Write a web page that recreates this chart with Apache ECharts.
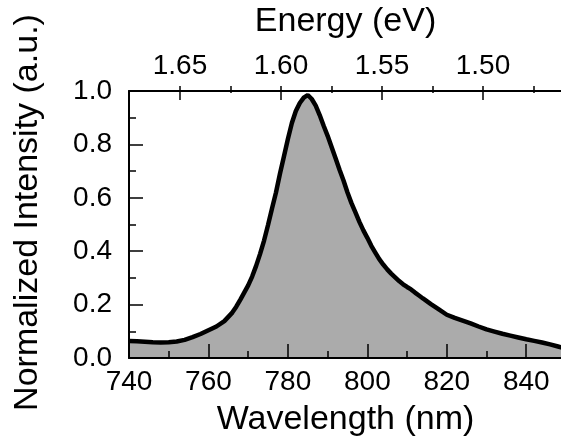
<!DOCTYPE html>
<html>
<head>
<meta charset="utf-8">
<script src="https://cdn.jsdelivr.net/npm/echarts@6/dist/echarts.min.js"></script>
<style>
  html, body { margin: 0; padding: 0; background: #fff; overflow: hidden; }
  /* wider than the window: the right end of the plot runs off the picture, as in the figure */
  #chart { width: 600px; height: 445px; }
</style>
</head>
<body>
<div id="chart"></div>
<script>
// spectrum
const wavelength = [
  740, 742, 744, 746, 748, 750, 752, 754, 756, 758, 760, 762, 764, 766, 767, 768, 769, 770,
  771, 772, 773, 774, 775, 776, 777, 778, 779, 780, 781, 782, 783, 784, 785, 786, 787, 788,
  789, 790, 791, 792, 793, 794, 795, 796, 797, 798, 799, 800, 801, 802, 803, 804, 805, 806,
  807, 808, 809, 810, 811, 812, 813, 814, 816, 818, 820, 822, 824, 826, 828, 830, 832, 834,
  836, 838, 840, 842, 844, 846, 848, 849
];
const intensity = [
  0.064, 0.063, 0.061, 0.059, 0.058, 0.059, 0.062, 0.068, 0.078, 0.090, 0.104, 0.118, 0.138, 0.170, 0.192, 0.218, 0.245, 0.272,
  0.305, 0.345, 0.390, 0.440, 0.498, 0.560, 0.620, 0.690, 0.755, 0.820, 0.880, 0.925, 0.955, 0.975, 0.985, 0.970, 0.945, 0.910,
  0.870, 0.832, 0.790, 0.748, 0.705, 0.665, 0.620, 0.580, 0.545, 0.510, 0.478, 0.450, 0.420, 0.395, 0.370, 0.350, 0.332, 0.316,
  0.302, 0.288, 0.276, 0.266, 0.257, 0.245, 0.234, 0.223, 0.202, 0.182, 0.162, 0.150, 0.140, 0.130, 0.118, 0.107, 0.099, 0.091,
  0.084, 0.077, 0.070, 0.064, 0.058, 0.051, 0.043, 0.039
];

// axis ranges
const wlMin = 740, wlMax = 849;
// top energy scale is linear; its grid runs from the 1.65 eV tick to 1.45 eV (off picture)
const eLeft = 1.65, eRight = 1.45;

const font = 'Liberation Sans';
const black = '#000';
const tickStyle = { color: black, width: 1.5 };
const labelStyle = { fontSize: 28, fontFamily: font, color: black };
const titleStyle = { fontSize: 34, fontFamily: font, color: black };

const chart = echarts.init(document.getElementById('chart'));

const option = {
  animation: false,
  grid: [
    { left: 129, right: 38, top: 86, bottom: 87 },
    { left: 180, right: 16, top: 86, bottom: 87 }
  ],
  xAxis: [
    {
      gridIndex: 0, type: 'value', position: 'bottom',
      min: wlMin, max: wlMax, interval: 20, z: 5,
      splitLine: { show: false },
      axisLine: { show: true, onZero: false, lineStyle: { color: black, width: 2 } },
      axisTick: { show: true, inside: true, length: 14, lineStyle: tickStyle },
      axisLabel: Object.assign({ margin: 10, showMaxLabel: false }, labelStyle),
      name: 'Wavelength (nm)', nameLocation: 'middle', nameGap: 45,
      nameTextStyle: titleStyle
    },
    {
      // minor wavelength ticks
      gridIndex: 0, type: 'value', position: 'bottom',
      min: wlMin, max: wlMax, interval: 10, z: 5,
      splitLine: { show: false },
      axisLine: { show: false, onZero: false },
      axisLabel: { show: false },
      axisTick: { show: true, inside: true, length: 7, lineStyle: tickStyle }
    },
    {
      // top frame line and title
      gridIndex: 0, type: 'value', position: 'top',
      min: 0, max: 1, z: 5,
      splitLine: { show: false },
      axisLine: { show: true, onZero: false, lineStyle: { color: black, width: 2 } },
      axisTick: { show: false },
      axisLabel: { show: false },
      name: 'Energy (eV)', nameLocation: 'middle', nameGap: 52,
      nameTextStyle: titleStyle
    },
    {
      gridIndex: 1, type: 'value', position: 'top',
      min: eRight, max: eLeft, inverse: true, interval: 0.05, z: 5,
      splitLine: { show: false },
      axisLine: { show: false, onZero: false },
      axisTick: { show: true, inside: true, length: 14, lineStyle: tickStyle },
      minorTick: { show: true, splitNumber: 2, length: 7, lineStyle: tickStyle },
      axisLabel: Object.assign({ margin: 6, showMinLabel: false, formatter: v => v.toFixed(2) }, labelStyle)
    }
  ],
  yAxis: [
    {
      gridIndex: 0, type: 'value',
      min: 0, max: 1, interval: 0.2, z: 5,
      splitLine: { show: false },
      axisLine: { show: true, onZero: false, lineStyle: { color: black, width: 2 } },
      axisTick: { show: true, inside: true, length: 14, lineStyle: tickStyle },
      minorTick: { show: true, splitNumber: 2, length: 7, lineStyle: tickStyle },
      axisLabel: Object.assign({ margin: 17, formatter: v => v.toFixed(1) }, labelStyle),
      name: 'Normalized Intensity (a.u.)', nameLocation: 'middle', nameGap: 84,
      nameTextStyle: Object.assign({ padding: [0, 0, 0, 24] }, titleStyle)
    },
    { gridIndex: 1, type: 'value', min: 0, max: 1, show: false }
  ],
  series: [{
    type: 'line',
    xAxisIndex: 0,
    yAxisIndex: 0,
    data: wavelength.map((w, i) => [w, intensity[i]]),
    showSymbol: false,
    lineStyle: { color: black, width: 4.5 },
    areaStyle: { color: '#ababab', opacity: 1 }
  }]
};

chart.setOption(option);
</script>
</body>
</html>
